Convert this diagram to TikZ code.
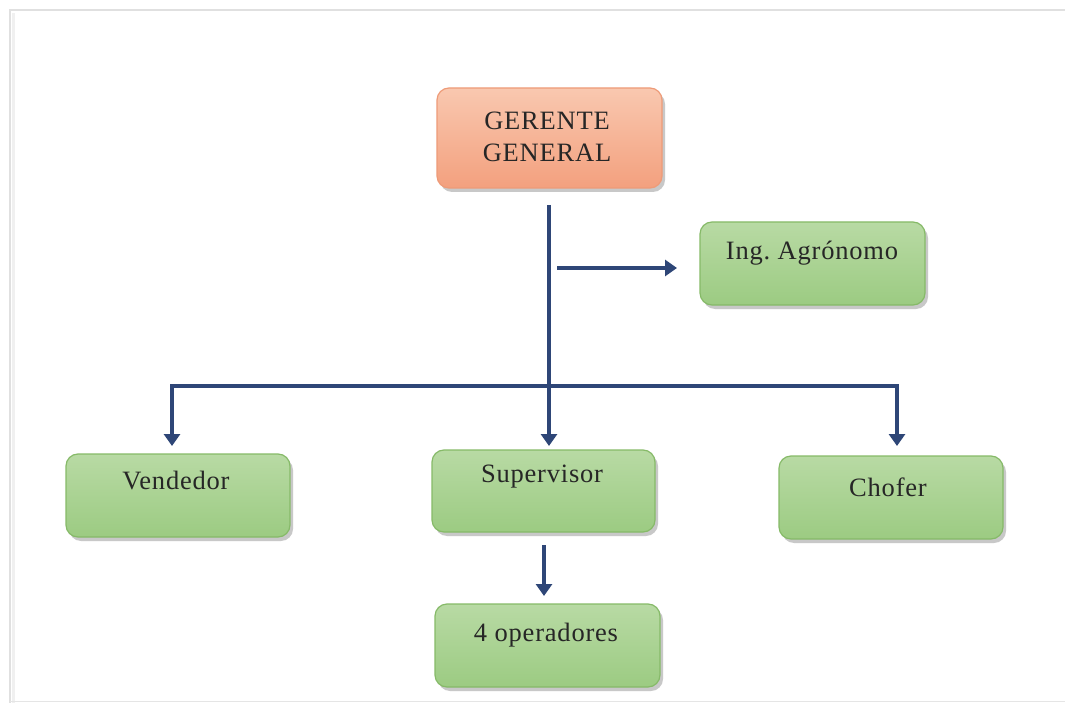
\documentclass[tikz,border=0pt]{standalone}
\usepackage{fontspec}
\setmainfont[LetterSpace=3]{Liberation Serif}
\usetikzlibrary{shadows,arrows.meta}
\definecolor{navy}{HTML}{2E4677}
\definecolor{gtop}{HTML}{B8DAA4}
\definecolor{gbot}{HTML}{9CCB82}
\definecolor{gborder}{HTML}{86BA68}
\definecolor{otop}{HTML}{F9C8B0}
\definecolor{obot}{HTML}{F3A07E}
\definecolor{oborder}{HTML}{EE9B78}
\tikzset{
  x=1pt,y=-1pt,
  box/.style={draw=gborder, line width=1.2pt, rounded corners=12pt, top color=gtop, bottom color=gbot,
    minimum width=224pt, minimum height=83pt, inner sep=0pt,
    drop shadow={shadow xshift=3pt, shadow yshift=-4pt, opacity=0.3, fill=black!70}},
  obox/.style={box, draw=oborder, top color=otop, bottom color=obot, minimum height=100pt},
  txt/.style={font=\fontsize{26.5}{32}\selectfont, text=black!85, align=center, inner sep=0pt},
  conn/.style={draw=navy, line width=3.6pt, line join=miter},
  arr/.style={conn, -{Triangle[length=12pt,width=16pt]}},
}
\begin{document}
\begin{tikzpicture}
\useasboundingbox (0,0) rectangle (1065,703);
\fill[white] (0,0) rectangle (1065,703);
% frame
\draw[black!12, line width=1.5pt] (10,703) -- (10,10) -- (1065,10);
\draw[black!6, line width=3pt] (13,703) -- (13,13);
\draw[black!10, line width=1pt] (10,701) -- (1065,701);

% boxes
\node[obox, minimum width=225pt] (ger) at (549.5,138) {};
\node[txt] at (547,137) {GERENTE\\GENERAL};
\node[box, minimum width=225pt] (ing) at (812.5,263.5) {};
\node[txt] at (812,253) {Ing.\ Agrónomo};
\node[box] (ven) at (178,495.5) {};
\node[txt] at (176,481) {Vendedor};
\node[box, minimum width=223pt, minimum height=82pt] (sup) at (543.5,491) {};
\node[txt] at (542,477) {Supervisor};
\node[box] (cho) at (891,497.5) {};
\node[txt] at (888,487) {Chofer};
\node[box, minimum width=225pt] (ope) at (547.5,645.5) {};
\node[txt] at (546,635) {4 operadores};

% connectors
\coordinate (top) at (549,205);
\coordinate (bar) at (549,386);
\coordinate (brL) at (172,386);
\coordinate (brR) at (897,386);
\coordinate (ingS) at (557,268);
\coordinate (ingE) at (677,268);
\coordinate (supE) at (549,446);
\coordinate (venE) at (172,446);
\coordinate (choE) at (897,446);
\coordinate (opS) at (544,545);
\coordinate (opE) at (544,596);
\draw[arr] (top) -- (supE);
\draw[arr] (ingS) -- (ingE);
\draw[arr] (bar) -- (brL) -- (venE);
\draw[arr] (bar) -- (brR) -- (choE);
\draw[arr] (opS) -- (opE);
\end{tikzpicture}
\end{document}
